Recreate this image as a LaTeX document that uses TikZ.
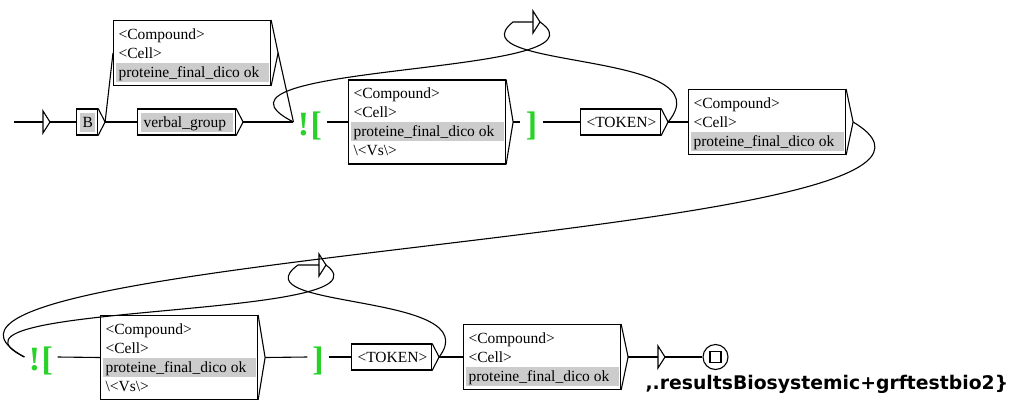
\documentclass[tikz,border=0pt]{standalone}
\usepackage{fontspec}
\setmainfont{Liberation Serif}
\newfontfamily\outfont{DejaVu Sans}
\usetikzlibrary{positioning}

\definecolor{cellgray}{RGB}{204,204,204}
\definecolor{ctxgreen}{RGB}{40,210,40}

\newcommand{\cellline}[2][153pt]{\hbox to #1{\vrule width 0pt height 14.5pt depth 4.5pt\hspace{3pt}#2\hfil}}
\newcommand{\grayline}[2][153pt]{\hbox{\fboxsep=0pt\colorbox{cellgray}{\cellline[#1]{#2}}}}
\newcommand{\celllines}[1]{\vbox{\offinterlineskip #1}}
\newcommand{\epsbox}[3]{%
	\coordinate (#1) at (#2,#3);
	\draw (#1) ++(0,-11) -- ++(7,11) coordinate (#1-o) -- ++(-7,11) -- cycle;}

\begin{document}
\begin{tikzpicture}[
	x=1pt, y=-1pt,
	line width=1.1pt,
	every node/.style={inner sep=0pt},
	unitbox/.style={draw, anchor=west, inner xsep=2pt, inner ysep=4pt,
		font=\fontsize{15.5}{19}\selectfont},
	smallbox/.style={draw, anchor=west, inner xsep=3pt, inner ysep=3.5pt,
		font=\fontsize{15.5}{19}\selectfont},
	context/.style={text=ctxgreen, minimum width=32pt, text height=27pt, text depth=0pt,
		font=\fontsize{34}{34}\selectfont\bfseries}
]
\useasboundingbox (0,0) rectangle (1011,399);

% first line
\coordinate (start) at (14,122);
\epsbox{init}{43}{122}
\node[smallbox] (b) at (76,122) {\grayline[15pt]{B}};
\node[unitbox] (cb1) at (113,53) {\celllines{\cellline{<Compound>}\cellline{<Cell>}\grayline{proteine\_final\_dico ok}}};
\node[smallbox] (vg) at (137,122) {\grayline[92pt]{verbal\_group}};
\node[context] (ctx1) at (310,122) {!\kern1.5pt[};
\node[unitbox] (cb2) at (348,122) {\celllines{\cellline{<Compound>}\cellline{<Cell>}\grayline{proteine\_final\_dico ok}\cellline{\textbackslash<Vs\textbackslash>}}};
\node[context, minimum width=21pt] (cl1) at (531.5,122) {]};
\node[smallbox] (tok1) at (580,122) {\cellline[74pt]{<TOKEN>}};
\node[unitbox] (cb3) at (688,122) {\celllines{\cellline{<Compound>}\cellline{<Cell>}\grayline{proteine\_final\_dico ok}}};
\coordinate (eps1-i) at (513,22);
\epsbox{eps1}{533}{22}

% second line
\node[context] (ctx2) at (41,357) {!\kern1.5pt[};
\node[unitbox] (cb4) at (100,357.5) {\celllines{\cellline{<Compound>}\cellline{<Cell>}\grayline{proteine\_final\_dico ok}\cellline{\textbackslash<Vs\textbackslash>}}};
\node[context, minimum width=20pt] (cl2) at (318,357) {]};
\node[smallbox] (tok2) at (351,357) {\cellline[74pt]{<TOKEN>}};
\node[unitbox] (cb5) at (463,357) {\celllines{\cellline{<Compound>}\cellline{<Cell>}\grayline{proteine\_final\_dico ok}}};
\coordinate (eps2-i) at (298,265);
\epsbox{eps2}{319}{265}
\epsbox{eps3}{658}{357}
\node[draw, circle, minimum size=25pt] (fin) at (715.5,357) {};
\node[draw, minimum size=11pt] (finsq) at (fin.center) {};
\node[anchor=base west, font=\outfont\bfseries\fontsize{18.8}{20}\selectfont] (out) at (645,389) {,.resultsBiosystemic+grftestbio2\}};

% output arrows of the boxes
\foreach \b in {b,cb1,vg,cb2,tok1,cb3,cb4,tok2,cb5}
	\draw (\b.north east) -- ([xshift=7pt]\b.east) coordinate (\b-o) -- (\b.south east);

% transitions
\draw (start) -- (init);
\draw (init-o) -- (b.west);
\draw (b-o) -- (cb1.west);
\draw (b-o) -- (vg.west);
\draw (cb1-o) -- (ctx1.west);
\draw (vg-o) -- (ctx1.west);
\draw (ctx1.east) -- (cb2.west);
\draw (cb2-o) -- (cl1.west);
\draw (cl1.east) -- (tok1.west);
\draw (tok1-o) -- (cb3.west);
\draw (tok1-o) .. controls +(60,-72) and +(-60,48) .. (eps1-i) -- (eps1);
\draw (eps1-o) .. controls +(80,55) and +(-118,-60) .. (ctx1.west);
\draw (cb3-o) .. controls +(198,118) and +(-195,-105) .. (ctx2.west);
\draw (ctx2.east) -- (cb4.west);
\draw (cb4-o) -- (cl2.west);
\draw (cl2.east) -- (tok2.west);
\draw (tok2-o) -- (cb5.west);
\draw (tok2-o) .. controls +(50,-65) and +(-62,45) .. (eps2-i) -- (eps2);
\draw (eps2-o) .. controls +(75,55) and +(-112,-55) .. (ctx2.west);
\draw (cb5-o) -- (eps3);
\draw (eps3-o) -- (fin.west);
\end{tikzpicture}
\end{document}
